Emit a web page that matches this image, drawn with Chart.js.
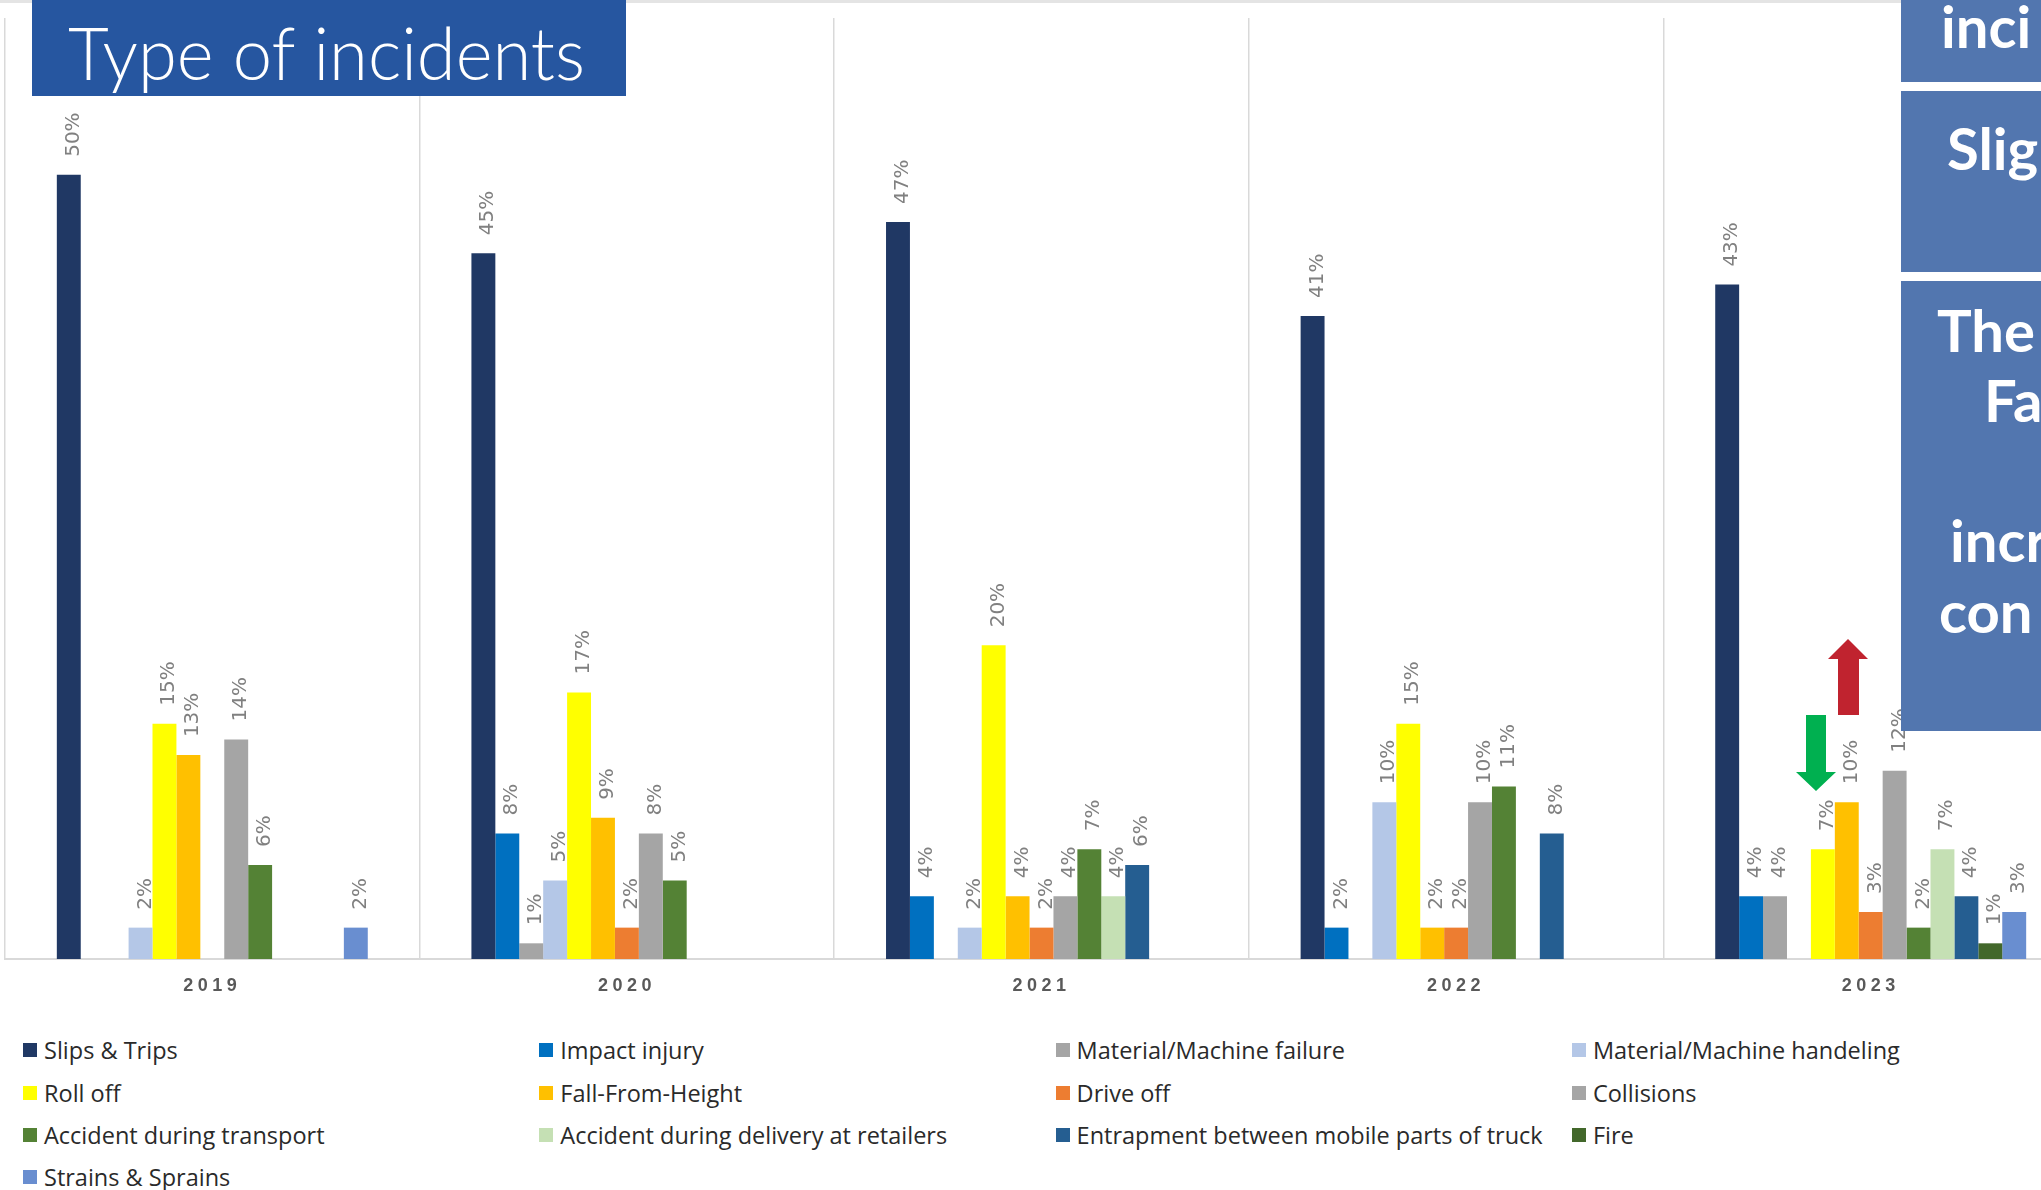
<!DOCTYPE html>
<html>
<head>
<meta charset="utf-8">
<script src="https://cdn.jsdelivr.net/npm/chart.js@4.4.1/dist/chart.umd.min.js"></script>
<style>
  html, body { margin: 0; padding: 0; background: #ffffff; overflow: hidden; }
  #stage { position: relative; width: 2041px; height: 1190px; overflow: hidden; }
  #plot { position: absolute; left: 0; top: 0; width: 2085px; height: 1010px; }
  #overlay { position: absolute; left: 0; top: 0; width: 2041px; height: 1190px; pointer-events: none; }
  #legend {
    position: absolute; left: 23px; top: 1029px;
    display: grid; grid-template-columns: repeat(4, 516.3px); grid-auto-rows: 42.4px;
    font-family: "Open Sans", sans-serif; font-size: 23.5px; color: #2a2a2a;
  }
  #legend .item { display: flex; align-items: center; white-space: nowrap; }
  #legend .swatch { width: 14px; height: 14px; margin-right: 7px; flex: none; }
</style>
</head>
<body>
<div id="stage">
  <div id="plot"><canvas id="chart" width="2085" height="1010"></canvas></div>
  <div id="legend"></div>
  <svg id="overlay" width="2041" height="1190" xmlns="http://www.w3.org/2000/svg">
    <rect x="0" y="0" width="2041" height="3" fill="#e4e4e4"/>
    <rect x="32" y="0" width="594" height="96" fill="#2656a0"/>
    <text x="68" y="80" fill="#ffffff" font-family="Lato, 'Open Sans', sans-serif" font-weight="300"
          font-size="72" textLength="517" lengthAdjust="spacingAndGlyphs">Type of incidents</text>

    <rect x="1901" y="0" width="140" height="82" fill="#5276af"/>
    <rect x="1901" y="91" width="140" height="181" fill="#5276af"/>
    <rect x="1901" y="281" width="140" height="450" fill="#5276af"/>
    <g fill="#ffffff" font-family="Lato, 'DejaVu Sans', sans-serif" font-weight="bold" font-size="58">
      <text x="1941" y="48">inci</text>
      <text x="1947" y="170">Slig</text>
      <text x="1937" y="352">The</text>
      <text x="1984" y="422">Fa</text>
      <text x="1950" y="562">incr</text>
      <text x="1939" y="633">con</text>
    </g>

    <polygon fill="#c0232f" points="1848,639 1868,659 1859,659 1859,715 1838,715 1838,659 1828,659"/>
    <polygon fill="#00b050" points="1816,791 1836,772 1826,772 1826,715 1806,715 1806,772 1796,772"/>
  </svg>
</div>
<script>
// Years on the category axis
const years = ['2019', '2020', '2021', '2022', '2023'];

// Share of incidents per type and year (%); null = no incidents of that type
const slipsTrips       = [50, 45, 47, 41, 43];
const impactInjury     = [null, 8, 4, 2, 4];
const machineFailure   = [null, 1, null, null, 4];
const machineHandling  = [2, 5, 2, 10, null];
const rollOff          = [15, 17, 20, 15, 7];
const fallFromHeight   = [13, 9, 4, 2, 10];
const driveOff         = [null, 2, 2, 2, 3];
const collisions       = [14, 8, 4, 10, 12];
const transportAcc     = [6, 5, 7, 11, 2];
const deliveryAcc      = [null, null, 4, null, 7];
const entrapment       = [null, null, 6, 8, 4];
const fire             = [null, null, null, null, 1];
const strainsSprains   = [2, null, null, null, 3];

const seriesNames = [
  'Slips & Trips', 'Impact injury', 'Material/Machine failure', 'Material/Machine handeling',
  'Roll off', 'Fall-From-Height', 'Drive off', 'Collisions',
  'Accident during transport', 'Accident during delivery at retailers',
  'Entrapment between mobile parts of truck', 'Fire', 'Strains & Sprains'
];
const seriesValues = [
  slipsTrips, impactInjury, machineFailure, machineHandling,
  rollOff, fallFromHeight, driveOff, collisions,
  transportAcc, deliveryAcc, entrapment, fire, strainsSprains
];
const seriesColors = [
  '#203864', '#0070c0', '#a5a5a5', '#b4c7e7',
  '#ffff00', '#ffc000', '#ed7d31', '#a5a5a5',
  '#548235', '#c5e0b4', '#255e91', '#43682b', '#698ed0'
];

const datasets = seriesNames.map((name, i) => ({
  label: name,
  data: seriesValues[i],
  backgroundColor: seriesColors[i],
  borderWidth: 0,
  categoryPercentage: 0.75,
  barPercentage: 1.0
}));

// Rotated percentage labels above each bar
const valueLabels = {
  id: 'valueLabels',
  afterDatasetsDraw(chart) {
    const ctx = chart.ctx;
    ctx.save();
    ctx.letterSpacing = '0px';
    ctx.font = '20px "DejaVu Sans", sans-serif';
    ctx.fillStyle = '#808080';
    ctx.textAlign = 'left';
    ctx.textBaseline = 'alphabetic';
    chart.data.datasets.forEach((ds, i) => {
      const meta = chart.getDatasetMeta(i);
      meta.data.forEach((bar, j) => {
        const v = ds.data[j];
        if (v === null || v === undefined) return;
        ctx.save();
        ctx.translate(bar.x + 10, bar.y - 18);
        ctx.rotate(-Math.PI / 2);
        ctx.fillText(v + '%', 0, 0);
        ctx.restore();
      });
    });
    ctx.restore();
  }
};

// Wide letter spacing for the year labels
const tickSpacing = {
  id: 'tickSpacing',
  beforeDraw(chart) { chart.ctx.letterSpacing = '4.5px'; },
  afterDraw(chart) { chart.ctx.letterSpacing = '0px'; }
};

const chart = new Chart(document.getElementById('chart'), {
  type: 'bar',
  data: { labels: years, datasets },
  options: {
    responsive: false,
    animation: false,
    devicePixelRatio: 1,
    layout: { padding: { left: 5, right: 7, top: 18, bottom: 0 } },
    plugins: { legend: { display: false }, tooltip: { enabled: false } },
    scales: {
      y: { display: false, min: 0, max: 60 },
      x: {
        grid: { color: '#d9d9d9', lineWidth: 1.5, drawTicks: false, offset: true },
        border: { color: '#d9d9d9', width: 2 },
        ticks: {
          color: '#595959',
          padding: 16,
          font: { family: '"Liberation Sans", Arial, sans-serif', size: 18, weight: 'bold' }
        },
        afterFit(scale) { scale.height = 51; }
      }
    }
  },
  plugins: [valueLabels, tickSpacing]
});

// Legend built from the chart's datasets, four columns
const legendEl = document.getElementById('legend');
chart.data.datasets.forEach(ds => {
  const item = document.createElement('div');
  item.className = 'item';
  const sw = document.createElement('span');
  sw.className = 'swatch';
  sw.style.background = ds.backgroundColor;
  const txt = document.createElement('span');
  txt.textContent = ds.label;
  item.appendChild(sw);
  item.appendChild(txt);
  legendEl.appendChild(item);
});
</script>
</body>
</html>
